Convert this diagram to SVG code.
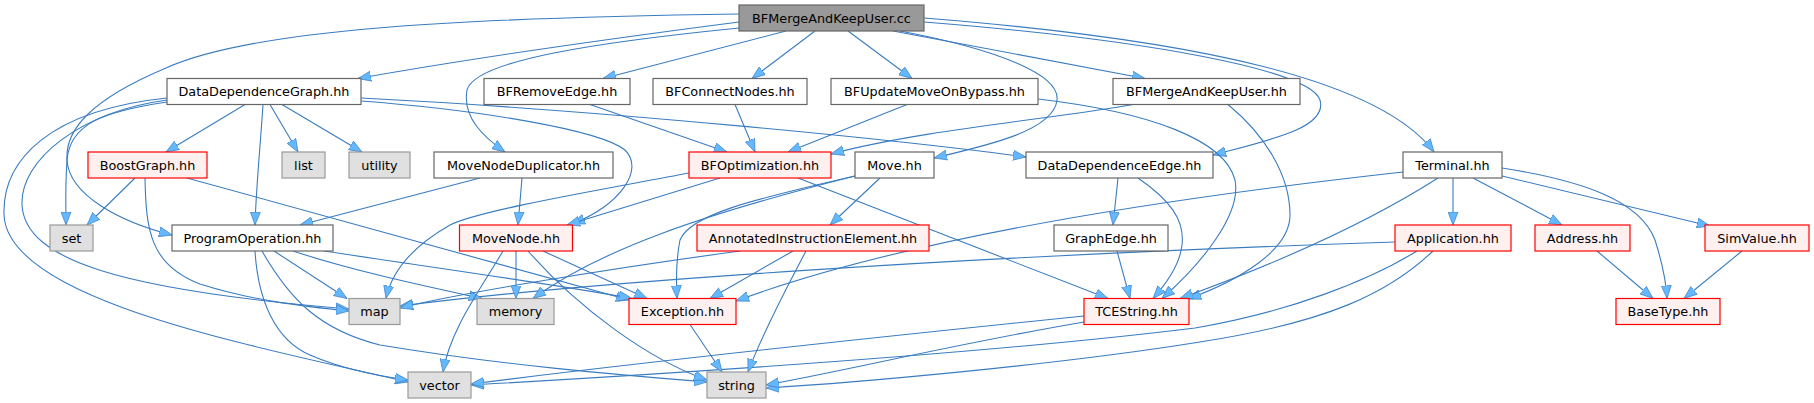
<svg xmlns="http://www.w3.org/2000/svg" width="1814" height="403" viewBox="0 0 1814 403">
<style>
rect{stroke-width:1.2}
.n{fill:#ffffff;stroke:#666666}
.r{fill:#fff0f0;stroke:#ff0000}
.g{fill:#e0e0e0;stroke:#999999}
.root{fill:#999999;stroke:#666666}
text{font-family:"DejaVu Sans","Liberation Sans",sans-serif;font-size:12.8px;text-anchor:middle;fill:#000}
#edges path{fill:none;stroke:#3a7cc0;stroke-width:1.1;marker-end:url(#ah)}
</style>
<defs>
<marker id="ah" markerUnits="userSpaceOnUse" markerWidth="14" markerHeight="11" viewBox="0 0 14 11" refX="13" refY="5.5" orient="auto">
<path d="M0,0.5 L13,5.5 L0,10.5 z" fill="#63b8ff" stroke="#3f7fbf" stroke-width="0.7"/>
</marker>
</defs>
<rect width="1814" height="403" fill="#ffffff"/>
<g id="edges">
<!-- from BFMergeAndKeepUser.cc -->
<path d="M739,22 C600,40 450,62 358,78.5"/>
<path d="M739,14 C450,18 250,30 166,68 C90,100 65,130 67,160 C69,195 120,222 172,235"/>
<path d="M739,28 C600,42 475,60 467,90 C462,118 485,138 505,152"/>
<path d="M786,31 L603,78.5"/>
<path d="M815,31 L752,78.5"/>
<path d="M848,31 L912,78.5"/>
<path d="M893,31 L1145,78.5"/>
<path d="M900,31 C1000,50 1060,75 1057,100 C1054,130 990,145 934,158"/>
<path d="M924,22 C1150,40 1310,70 1320,100 C1328,128 1270,140 1213,155"/>
<path d="M924,18 C1200,40 1380,80 1434,152"/>
<!-- DataDependenceGraph.hh -->
<path d="M245,104.5 L166,152"/>
<path d="M270,104.5 L298,152"/>
<path d="M282,104.5 L362,152"/>
<path d="M263,104.5 C260,150 256,190 255,225"/>
<path d="M167,102 C100,112 70,125 67,160 C65,190 66,205 66,225"/>
<path d="M167,100 C80,112 20,160 22,205 C25,260 120,290 349,309"/>
<path d="M167,98 C50,110 2,160 4,215 C8,300 250,345 408,382"/>
<path d="M361,101 C480,110 600,130 625,150 C645,170 620,205 572,224"/>
<path d="M361,98 C600,110 900,140 1026,157"/>
<!-- BoostGraph.hh -->
<path d="M135,178 L87,225"/>
<path d="M145,178 C146,230 150,265 200,284 C250,300 300,306 349,311"/>
<path d="M187,178 L629,300"/>
<!-- MoveNodeDuplicator.hh -->
<path d="M480,178 L300,225"/>
<path d="M522,178 L518,225"/>
<!-- BFOptimization.hh -->
<path d="M689,173 C600,190 480,210 450,225 C415,245 392,270 386,298.5"/>
<path d="M720,178 L567,225"/>
<path d="M798,178 L1108,298.5"/>
<!-- row 1 headers -->
<path d="M590,104.5 L727,152"/>
<path d="M735,104.5 L755,152"/>
<path d="M907,104.5 L788,152"/>
<path d="M1038,99 C1150,112 1225,140 1235,180 C1242,215 1200,265 1162,298.5"/>
<path d="M1133,104.5 C1060,118 920,130 831,154"/>
<path d="M1228,104.5 C1265,135 1290,175 1290,215 C1290,250 1240,280 1188,299"/>
<!-- DataDependenceEdge.hh / GraphEdge.hh -->
<path d="M1138,178 C1170,200 1185,220 1182,245 C1180,265 1165,285 1153,298.5"/>
<path d="M1118,178 L1113,225"/>
<path d="M1117,251 L1130,298.5"/>
<!-- Terminal.hh -->
<path d="M1403,172 C1150,200 900,240 736,301"/>
<path d="M1438,178 C1380,215 1300,255 1180,298.5"/>
<path d="M1453,178 L1453,225"/>
<path d="M1473,178 L1562,225"/>
<path d="M1502,176 L1710,226"/>
<path d="M1502,168 C1580,180 1640,200 1655,240 C1662,262 1666,280 1667,298.5"/>
<path d="M1597,251 L1653,298.5"/>
<path d="M1742,251 L1684,298.5"/>
<!-- Application.hh -->
<path d="M1395,242 C1000,255 600,280 400,306"/>
<path d="M1417,251 C1370,280 1290,312 1195,328 C1000,352 700,372 471,385"/>
<path d="M1433,251 C1390,292 1330,322 1200,342 C1050,366 850,383 766,388"/>
<!-- TCEString.hh -->
<path d="M1084,316 C850,340 620,365 471,384"/>
<path d="M1084,322 C950,345 850,370 766,385"/>
<!-- ProgramOperation.hh -->
<path d="M274,251 L347,298.5"/>
<path d="M293,251 C350,270 420,285 482,298.5"/>
<path d="M324,251 C450,270 560,285 632,298.5"/>
<path d="M255,251 C258,300 275,340 310,355 C340,368 370,375 408,380"/>
<path d="M262,251 C290,300 320,330 380,345 C500,365 620,375 707,382"/>
<!-- MoveNode.hh -->
<path d="M503,251 C480,290 450,330 443,372"/>
<path d="M516,251 L516,298.5"/>
<path d="M543,251 L647,298.5"/>
<path d="M528,251 C580,310 650,360 707,380"/>
<!-- Move.hh -->
<path d="M880,178 L830,225"/>
<path d="M855,176 C750,200 690,215 680,240 C676,260 676,280 677,298.5"/>
<path d="M855,176 C700,215 600,250 533,298.5"/>
<!-- AnnotatedInstructionElement.hh -->
<path d="M740,251 C600,270 450,295 400,308"/>
<path d="M793,251 L710,298.5"/>
<path d="M806,251 C780,300 760,340 748,372"/>
<!-- Exception.hh -->
<path d="M690,324.5 L722,372"/>
</g>
<g id="n_root"><rect class="root" x="739" y="5" width="185" height="26"/><text x="831.5" y="22.6">BFMergeAndKeepUser.cc</text></g>
<g id="n_ddg"><rect class="n" x="167" y="78.5" width="194" height="26"/><text x="264" y="96.1">DataDependenceGraph.hh</text></g>
<g id="n_bfre"><rect class="n" x="484" y="78.5" width="146" height="26"/><text x="557" y="96.1">BFRemoveEdge.hh</text></g>
<g id="n_bfcn"><rect class="n" x="653" y="78.5" width="154" height="26"/><text x="730" y="96.1">BFConnectNodes.hh</text></g>
<g id="n_bfumob"><rect class="n" x="831" y="78.5" width="207" height="26"/><text x="934.5" y="96.1">BFUpdateMoveOnBypass.hh</text></g>
<g id="n_bfmku"><rect class="n" x="1113" y="78.5" width="187" height="26"/><text x="1206.5" y="96.1">BFMergeAndKeepUser.hh</text></g>
<g id="n_boost"><rect class="r" x="88" y="152" width="119" height="26"/><text x="147.5" y="169.6">BoostGraph.hh</text></g>
<g id="n_list"><rect class="g" x="282" y="152" width="43" height="26"/><text x="303.5" y="169.6">list</text></g>
<g id="n_utility"><rect class="g" x="349" y="152" width="61" height="26"/><text x="379.5" y="169.6">utility</text></g>
<g id="n_mnd"><rect class="n" x="434" y="152" width="179" height="26"/><text x="523.5" y="169.6">MoveNodeDuplicator.hh</text></g>
<g id="n_bfopt"><rect class="r" x="689" y="152" width="142" height="26"/><text x="760" y="169.6">BFOptimization.hh</text></g>
<g id="n_move"><rect class="n" x="855" y="152" width="79" height="26"/><text x="894.5" y="169.6">Move.hh</text></g>
<g id="n_dde"><rect class="n" x="1026" y="152" width="187" height="26"/><text x="1119.5" y="169.6">DataDependenceEdge.hh</text></g>
<g id="n_terminal"><rect class="n" x="1403" y="152" width="99" height="26"/><text x="1452.5" y="169.6">Terminal.hh</text></g>
<g id="n_set"><rect class="g" x="50" y="225" width="43" height="26"/><text x="71.5" y="242.6">set</text></g>
<g id="n_progop"><rect class="n" x="172" y="225" width="161" height="26"/><text x="252.5" y="242.6">ProgramOperation.hh</text></g>
<g id="n_movenode"><rect class="r" x="459.5" y="225" width="113" height="26"/><text x="516" y="242.6">MoveNode.hh</text></g>
<g id="n_aie"><rect class="r" x="697" y="225" width="232" height="26"/><text x="813" y="242.6">AnnotatedInstructionElement.hh</text></g>
<g id="n_graphedge"><rect class="n" x="1054" y="225" width="114" height="26"/><text x="1111" y="242.6">GraphEdge.hh</text></g>
<g id="n_application"><rect class="r" x="1395" y="225" width="116" height="26"/><text x="1453" y="242.6">Application.hh</text></g>
<g id="n_address"><rect class="r" x="1535" y="225" width="95" height="26"/><text x="1582.5" y="242.6">Address.hh</text></g>
<g id="n_simvalue"><rect class="r" x="1705" y="225" width="104" height="26"/><text x="1757" y="242.6">SimValue.hh</text></g>
<g id="n_map"><rect class="g" x="349" y="298.5" width="51" height="26"/><text x="374.5" y="316.1">map</text></g>
<g id="n_memory"><rect class="g" x="477" y="298.5" width="77" height="26"/><text x="515.5" y="316.1">memory</text></g>
<g id="n_exception"><rect class="r" x="629" y="298.5" width="107" height="26"/><text x="682.5" y="316.1">Exception.hh</text></g>
<g id="n_tcestring"><rect class="r" x="1084" y="298.5" width="105" height="26"/><text x="1136.5" y="316.1">TCEString.hh</text></g>
<g id="n_basetype"><rect class="r" x="1616" y="298.5" width="104" height="26"/><text x="1668" y="316.1">BaseType.hh</text></g>
<g id="n_vector"><rect class="g" x="408" y="372" width="63" height="26"/><text x="439.5" y="389.6">vector</text></g>
<g id="n_string"><rect class="g" x="707" y="372" width="59" height="26"/><text x="736.5" y="389.6">string</text></g>
</svg>
